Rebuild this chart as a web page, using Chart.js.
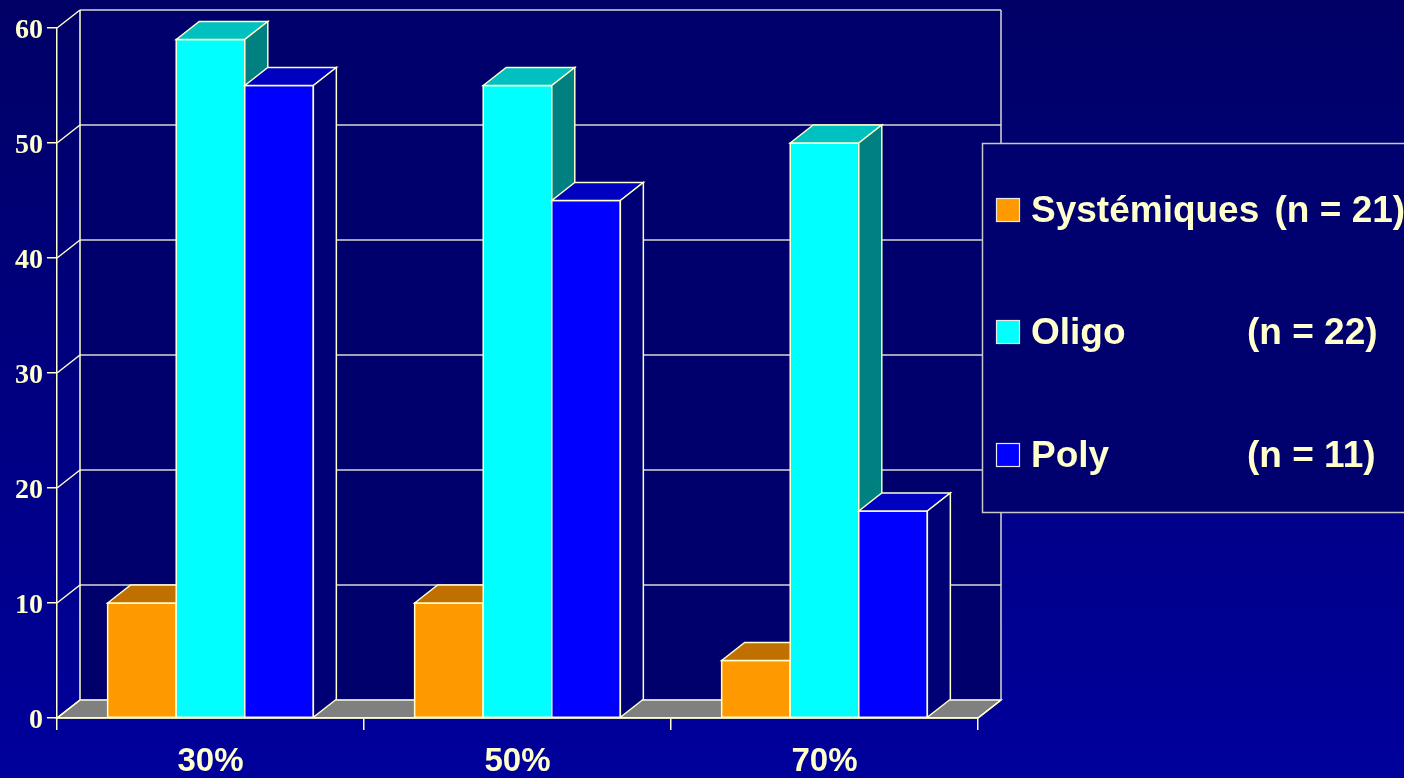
<!DOCTYPE html>
<html>
<head>
<meta charset="utf-8">
<style>
  html, body { margin: 0; padding: 0; background: #000080; overflow: hidden; }
  canvas { display: block; }
</style>
<script src="https://cdn.jsdelivr.net/npm/chart.js@4.4.1/dist/chart.umd.min.js"></script>
</head>
<body>
<canvas id="c" width="1404" height="778"></canvas>
<script>
// ---- data ----
const categories = ['30%', '50%', '70%'];
const systemiques = [10, 10, 5];
const oligo = [59, 55, 50];
const poly = [55, 45, 18];
const seriesNames = ['Systémiques', 'Oligo', 'Poly'];
const seriesCounts = [21, 22, 11];
const yMin = 0, yMax = 60, yStep = 10;

// ---- styling ----
const CREAM = '#ffffcc';
const WALL_LINE = '#d8d8d0';
const DX = 23, DY = -18;            // depth offset of the 3D box
const faces = [
  { front: '#ff9900', top: '#c07000', side: '#9a5a00' },
  { front: '#00ffff', top: '#00c0c0', side: '#008080' },
  { front: '#0000ff', top: '#0000c0', side: '#000076' }
];
const SANS = '"Liberation Sans", Arial, sans-serif';
const SERIF = '"Liberation Serif", "Times New Roman", serif';

function line(ctx, x1, y1, x2, y2) {
  ctx.beginPath(); ctx.moveTo(x1, y1); ctx.lineTo(x2, y2); ctx.stroke();
}
function poly4(ctx, pts, fill, stroke) {
  ctx.beginPath();
  ctx.moveTo(pts[0][0], pts[0][1]);
  for (let i = 1; i < pts.length; i++) ctx.lineTo(pts[i][0], pts[i][1]);
  ctx.closePath();
  ctx.fillStyle = fill; ctx.fill();
  ctx.strokeStyle = stroke; ctx.stroke();
}

// Back wall, floor, bar depth faces and the boxed legend
const scene3d = {
  id: 'scene3d',
  beforeDraw(chart) {
    const { ctx, chartArea: a, scales: { y } } = chart;
    ctx.save();
    const g = ctx.createLinearGradient(0, 0, 0, chart.height);
    g.addColorStop(0, '#000066');
    g.addColorStop(1, '#00009c');
    ctx.fillStyle = g;
    ctx.fillRect(0, 0, chart.width, chart.height);

    const top = y.getPixelForValue(yMax), base = y.getPixelForValue(yMin);
    ctx.lineWidth = 1.5;

    // back wall
    ctx.fillStyle = '#00006c';
    ctx.fillRect(a.left + DX, top + DY, a.right - a.left, base - top);

    // floor
    poly4(ctx, [[a.left, base], [a.right, base], [a.right + DX, base + DY], [a.left + DX, base + DY]], '#808080', CREAM);

    // wall grid lines and side connectors
    for (let v = yMin; v <= yMax; v += yStep) {
      const py = y.getPixelForValue(v);
      ctx.strokeStyle = WALL_LINE;
      line(ctx, a.left + DX, py + DY, a.right + DX, py + DY);
      ctx.strokeStyle = CREAM;
      line(ctx, a.left, py, a.left + DX, py + DY);
    }
    ctx.strokeStyle = CREAM;
    line(ctx, a.left + DX, top + DY, a.left + DX, base + DY);
    ctx.strokeStyle = WALL_LINE;
    line(ctx, a.right + DX, top + DY, a.right + DX, base + DY);
    ctx.strokeStyle = CREAM;
    line(ctx, a.right, base, a.right + DX, base + DY);
    ctx.restore();
  },
  afterDatasetsDraw(chart) {
    const ctx = chart.ctx;
    ctx.save();
    ctx.lineWidth = 1.5;
    ctx.lineJoin = 'miter';
    const n = chart.data.labels.length;
    for (let j = 0; j < n; j++) {
      chart.data.datasets.forEach((ds, i) => {
        const el = chart.getDatasetMeta(i).data[j];
        const l = el.x - el.width / 2, r = el.x + el.width / 2;
        const t = el.y, b = el.base;
        const f = faces[i];
        poly4(ctx, [[l, b], [l, t], [r, t], [r, b]], f.front, CREAM);
        poly4(ctx, [[l, t], [l + DX, t + DY], [r + DX, t + DY], [r, t]], f.top, CREAM);
        poly4(ctx, [[r, t], [r + DX, t + DY], [r + DX, b + DY], [r, b]], f.side, CREAM);
      });
    }
    ctx.restore();
  },
  afterDraw(chart) {
    const ctx = chart.ctx;
    ctx.save();
    // legend box
    ctx.fillStyle = '#00006e';
    ctx.strokeStyle = '#c8c8c8';
    ctx.lineWidth = 1.5;
    ctx.fillRect(982.5, 143.5, 440, 369);
    ctx.strokeRect(982.5, 143.5, 440, 369);

    ctx.font = 'bold 37px ' + SANS;
    ctx.textBaseline = 'alphabetic';
    ctx.textAlign = 'left';
    const baselines = [222, 344, 467];
    const countCol = 1247;
    chart.data.datasets.forEach((ds, i) => {
      const yb = baselines[i];
      ctx.fillStyle = faces[i].front;
      ctx.fillRect(996, yb - 24, 24, 24);
      ctx.strokeStyle = '#e8e8e8';
      ctx.lineWidth = 1.2;
      ctx.strokeRect(996.5, yb - 23.5, 23, 23);
      ctx.fillStyle = CREAM;
      ctx.fillText(ds.label, 1031, yb);
      const nameEnd = 1031 + ctx.measureText(ds.label + ' ').width + 5;
      ctx.fillText('(n = ' + seriesCounts[i] + ')', Math.max(nameEnd, countCol), yb);
    });
    ctx.restore();
  }
};

new Chart(document.getElementById('c'), {
  type: 'bar',
  data: {
    labels: categories,
    datasets: [
      { label: seriesNames[0], data: systemiques, backgroundColor: faces[0].front, borderColor: CREAM, borderWidth: 1.5 },
      { label: seriesNames[1], data: oligo, backgroundColor: faces[1].front, borderColor: CREAM, borderWidth: 1.5 },
      { label: seriesNames[2], data: poly, backgroundColor: faces[2].front, borderColor: CREAM, borderWidth: 1.5 }
    ]
  },
  options: {
    responsive: false,
    animation: false,
    devicePixelRatio: 1,
    layout: { padding: { top: 28, right: 426, left: 0, bottom: 0 } },
    plugins: { legend: { display: false }, tooltip: { enabled: false } },
    datasets: { bar: { categoryPercentage: 0.67, barPercentage: 1 } },
    scales: {
      x: {
        grid: { display: true, drawOnChartArea: false, drawTicks: true, tickLength: 12, color: CREAM, lineWidth: 1.5, offset: true },
        border: { display: true, color: CREAM, width: 1.5 },
        ticks: { color: CREAM, font: { family: SANS, size: 33, weight: 'bold' }, padding: 12, maxRotation: 0 },
        afterFit(s) { s.height = 60; }
      },
      y: {
        min: yMin, max: yMax,
        ticks: { stepSize: yStep, color: CREAM, font: { family: SERIF, size: 28, weight: 'bold' }, padding: 4, labelOffset: 3 },
        grid: { drawOnChartArea: false, drawTicks: true, tickLength: 10, color: CREAM, lineWidth: 1.5 },
        border: { display: true, color: CREAM, width: 1.5 },
        afterFit(s) { s.width = 57; }
      }
    }
  },
  plugins: [scene3d]
});
</script>
</body>
</html>
